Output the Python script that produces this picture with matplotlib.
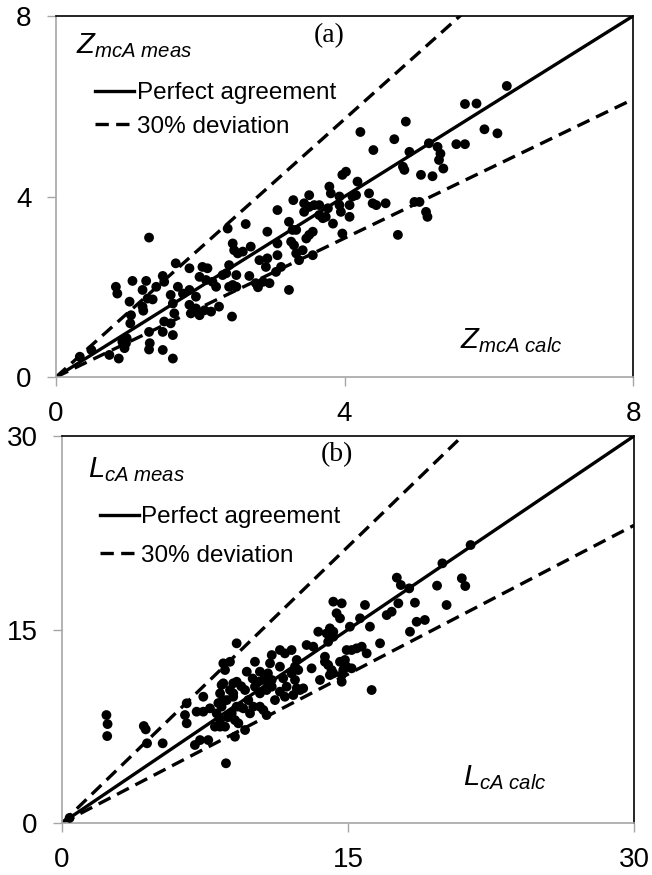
import matplotlib
matplotlib.use('Agg')
import matplotlib.pyplot as plt

# Panel (a): Z_mcA calculado vs medido
za_calc = [0.33, 0.49, 0.74, 0.87, 0.95, 0.97, 0.92, 0.98, 0.83, 0.85, 1.06, 1.02, 1.04, 1.03,
           1.20, 1.21, 1.25, 1.20, 1.27, 1.34, 1.39, 1.29, 1.29, 1.30, 1.29, 1.48, 1.62, 1.48,
           1.50, 1.59, 1.62, 1.64, 1.48, 1.50, 1.59, 1.62, 1.66, 1.69, 1.76, 1.85, 1.85, 1.94,
           1.85, 1.87, 1.94, 1.99, 1.99, 2.03, 2.10, 2.06, 2.15, 2.26, 2.08, 2.17, 2.22, 2.31,
           2.36, 2.40, 2.38, 2.45, 2.47, 2.52, 2.40, 2.45, 2.50, 2.44, 2.50, 2.59, 2.63, 2.70,
           2.68, 2.77, 2.80, 2.87, 2.82, 2.91, 2.93, 2.96, 2.93, 3.05, 3.12, 3.07, 3.07, 3.07,
           3.23, 3.28, 3.33, 3.23, 3.26, 3.30, 3.29, 3.33, 3.37, 3.42, 3.44, 3.51, 3.44, 3.47,
           3.51, 3.56, 3.56, 3.51, 3.58, 3.65, 3.65, 3.70, 3.74, 3.79, 3.81, 3.77, 3.84, 3.93,
           3.93, 3.95, 3.97, 3.97, 4.02, 4.07, 4.07, 4.11, 4.16, 4.18, 4.34, 4.39, 4.44, 4.57,
           4.74, 4.81, 4.83, 4.97, 5.04, 5.06, 5.13, 5.15, 4.22, 4.40, 4.69, 4.85, 4.90, 5.22,
           5.17, 5.29, 5.33, 5.31, 5.37, 5.55, 5.67, 5.67, 5.83, 5.94, 6.12, 6.25]
za_meas = [0.45, 0.60, 0.49, 0.41, 0.64, 0.75, 0.78, 0.86, 2.00, 1.85, 2.13, 1.67, 1.37, 1.19,
           1.56, 1.47, 2.13, 1.93, 1.74, 1.72, 2.00, 3.09, 1.00, 0.75, 0.61, 0.60, 0.41, 1.00,
           1.23, 1.19, 0.93, 1.41, 2.24, 2.11, 1.82, 1.63, 2.52, 2.00, 1.85, 2.41, 1.93, 1.78,
           1.60, 1.41, 1.52, 1.37, 2.22, 2.44, 2.41, 1.48, 1.45, 1.56, 2.15, 2.11, 2.00, 2.26,
           2.30, 2.48, 3.29, 2.96, 2.81, 2.74, 2.00, 2.04, 2.00, 1.34, 2.26, 2.78, 3.39, 2.89,
           2.24, 2.08, 1.99, 2.11, 2.59, 2.44, 2.63, 2.08, 3.22, 2.33, 2.44, 2.96, 2.70, 3.70,
           3.44, 3.26, 3.26, 1.93, 3.00, 2.92, 3.92, 2.74, 2.59, 2.81, 3.85, 4.03, 3.66, 3.07,
           3.15, 3.22, 2.70, 3.77, 3.81, 3.81, 3.59, 3.52, 3.55, 4.22, 4.07, 3.74, 3.40, 3.81,
           4.00, 3.66, 3.18, 4.48, 4.55, 3.55, 3.81, 4.00, 4.03, 4.33, 4.07, 3.85, 3.81, 3.85,
           3.15, 4.66, 4.59, 3.88, 3.88, 4.48, 3.66, 3.55, 5.43, 5.03, 5.27, 5.66, 4.99, 4.45,
           5.18, 5.10, 4.95, 4.81, 4.62, 5.16, 5.16, 6.05, 6.06, 5.49, 5.40, 6.45]

# Panel (b): L_cA calculado vs medido
lb_calc = [0.40, 2.33, 2.39, 2.37, 4.29, 4.39, 4.46, 5.28, 6.45, 6.54, 6.54, 6.97, 7.24, 7.67,
           7.06, 7.41, 7.41, 7.76, 8.60, 8.37, 8.29, 8.46, 8.37, 8.11, 8.02, 8.29, 8.55, 8.55,
           8.46, 9.16, 8.81, 8.98, 9.16, 8.90, 9.07, 9.25, 9.07, 9.60, 8.98, 9.16, 8.81, 9.69,
           9.60, 9.77, 9.51, 9.86, 10.03, 10.12, 10.38, 10.56, 10.29, 10.12, 10.38, 10.73, 10.38,
           10.56, 10.73, 11.00, 10.91, 11.00, 11.00, 11.17, 11.43, 11.69, 12.04, 11.43, 11.60,
           11.78, 11.69, 11.43, 12.04, 12.22, 12.31, 12.13, 12.48, 12.31, 12.22, 12.39, 12.65,
           12.83, 13.18, 13.09, 13.53, 13.44, 13.88, 14.05, 14.23, 13.79, 13.96, 14.23, 13.79,
           13.96, 14.14, 14.23, 14.05, 14.40, 14.58, 14.67, 14.58, 14.84, 14.75, 14.93, 14.67,
           15.19, 14.93, 15.19, 15.45, 15.72, 15.10, 14.67, 14.23, 15.98, 16.24, 16.68, 15.63,
           15.89, 16.15, 17.03, 17.29, 17.64, 18.51, 20.17, 18.25, 18.60, 19.03, 21.43, 19.95,
           20.97, 21.15, 19.67, 17.56, 17.77, 18.21, 8.46, 8.64, 8.29, 8.98, 9.33, 8.20, 8.70,
           9.40, 10.00, 10.80]
lb_meas = [0.40, 8.37, 7.67, 6.74, 7.52, 7.26, 6.18, 6.18, 8.37, 7.73, 9.28, 6.05, 6.43, 6.43,
           8.63, 8.63, 9.79, 8.89, 4.63, 10.70, 10.05, 9.53, 9.02, 8.50, 7.47, 7.47, 7.47, 11.86,
           12.38, 13.93, 10.31, 9.79, 9.02, 8.50, 7.98, 7.73, 6.69, 7.21, 10.83, 10.95, 12.50,
           11.73, 10.31, 9.53, 8.89, 8.50, 9.02, 12.50, 11.73, 11.09, 10.95, 10.57, 10.05, 10.31,
           9.02, 8.76, 8.37, 13.02, 12.38, 11.09, 10.57, 9.53, 13.41, 13.15, 13.41, 12.12, 11.22,
           10.57, 9.79, 10.18, 11.60, 11.09, 10.44, 9.92, 10.31, 12.64, 12.12, 11.86, 10.44,
           13.80, 13.67, 11.99, 11.09, 14.83, 14.70, 15.09, 14.83, 12.89, 14.05, 14.44, 12.50,
           12.25, 11.86, 11.60, 11.47, 16.26, 15.87, 10.95, 12.50, 12.64, 11.86, 12.12, 11.47,
           11.99, 13.41, 13.41, 13.54, 13.67, 15.22, 17.03, 17.16, 13.15, 10.31, 13.93, 15.87,
           16.90, 15.22, 16.12, 16.38, 17.03, 17.08, 16.90, 14.83, 15.60, 15.74, 21.55, 20.13,
           18.97, 18.37, 18.40, 19.02, 18.45, 18.19, 10.83, 9.53, 7.98, 10.05, 9.02, 9.30, 8.20,
           10.60, 11.20, 11.60]

desviacion = 0.3

plt.rcParams['font.family'] = ['Liberation Sans', 'DejaVu Sans']
plt.rcParams['mathtext.fontset'] = 'custom'
plt.rcParams['mathtext.it'] = 'Liberation Sans:italic'
plt.rcParams['mathtext.rm'] = 'Liberation Sans'

GRIS = '#a6a6a6'


def graficar_panel(ax, calc, meas, lim, ticks, letra, lab_y, lab_x, pos):
    xs = [0, lim]
    ax.plot(xs, xs, color='black', lw=2.4, zorder=2, label='Perfect agreement')
    ax.plot(xs, [v / (1 - desviacion) for v in xs], color='black', lw=2.4,
            dashes=(4.0, 2.2), zorder=2, label='30% deviation')
    ax.plot(xs, [v / (1 + desviacion) for v in xs], color='black', lw=2.4,
            dashes=(4.0, 2.2), zorder=2)
    ax.scatter(calc, meas, s=50, color='black', edgecolors='none', zorder=3)

    ax.set_xlim(0, lim)
    ax.set_ylim(0, lim)
    ax.set_xticks(ticks)
    ax.set_yticks(ticks)
    ax.tick_params(direction='out', length=6.5, width=1.0, color=GRIS,
                   labelsize=20, pad=11)
    for lado in ['left', 'bottom']:
        ax.spines[lado].set_color(GRIS)
        ax.spines[lado].set_linewidth(1.2)
    for lado in ['top', 'right']:
        ax.spines[lado].set_color('black')
        ax.spines[lado].set_linewidth(1.2)

    ax.text(pos['letra'][0], pos['letra'][1], letra, transform=ax.transAxes,
            ha='center', va='center', fontsize=20, family='Liberation Serif')
    ax.text(pos['y'][0], pos['y'][1], lab_y, transform=ax.transAxes,
            ha='left', va='baseline', fontsize=21)
    ax.text(pos['x'][0], pos['x'][1], lab_x, transform=ax.transAxes,
            ha='left', va='baseline', fontsize=21)

    ax.legend(loc='center left', bbox_to_anchor=(pos['leg'][0], pos['leg'][1]),
              frameon=False, fontsize=17.5, handlelength=1.6, handletextpad=0.1,
              labelspacing=pos['leg'][2], borderpad=0, borderaxespad=0)


fig = plt.figure(figsize=(6.52, 8.75), dpi=100)
ax_a = fig.add_axes([0.0859, 0.5691, 0.885, 0.4126])
ax_b = fig.add_axes([0.0951, 0.0594, 0.8773, 0.4423])

graficar_panel(ax_a, za_calc, za_meas, 8, [0, 4, 8], '(a)',
               r'$Z_{mcA\ meas}$', r'$Z_{mcA\ calc}$',
               {'letra': (0.473, 0.947), 'y': (0.034, 0.8965), 'x': (0.70, 0.080),
                'leg': (0.068, 0.74, 0.48)})
graficar_panel(ax_b, lb_calc, lb_meas, 30, [0, 15, 30], '(b)',
               r'$L_{cA\ meas}$', r'$L_{cA\ calc}$',
               {'letra': (0.48, 0.951), 'y': (0.045, 0.893), 'x': (0.701, 0.0965),
                'leg': (0.066, 0.74, 0.68)})

fig.savefig('out.png', dpi=100)
